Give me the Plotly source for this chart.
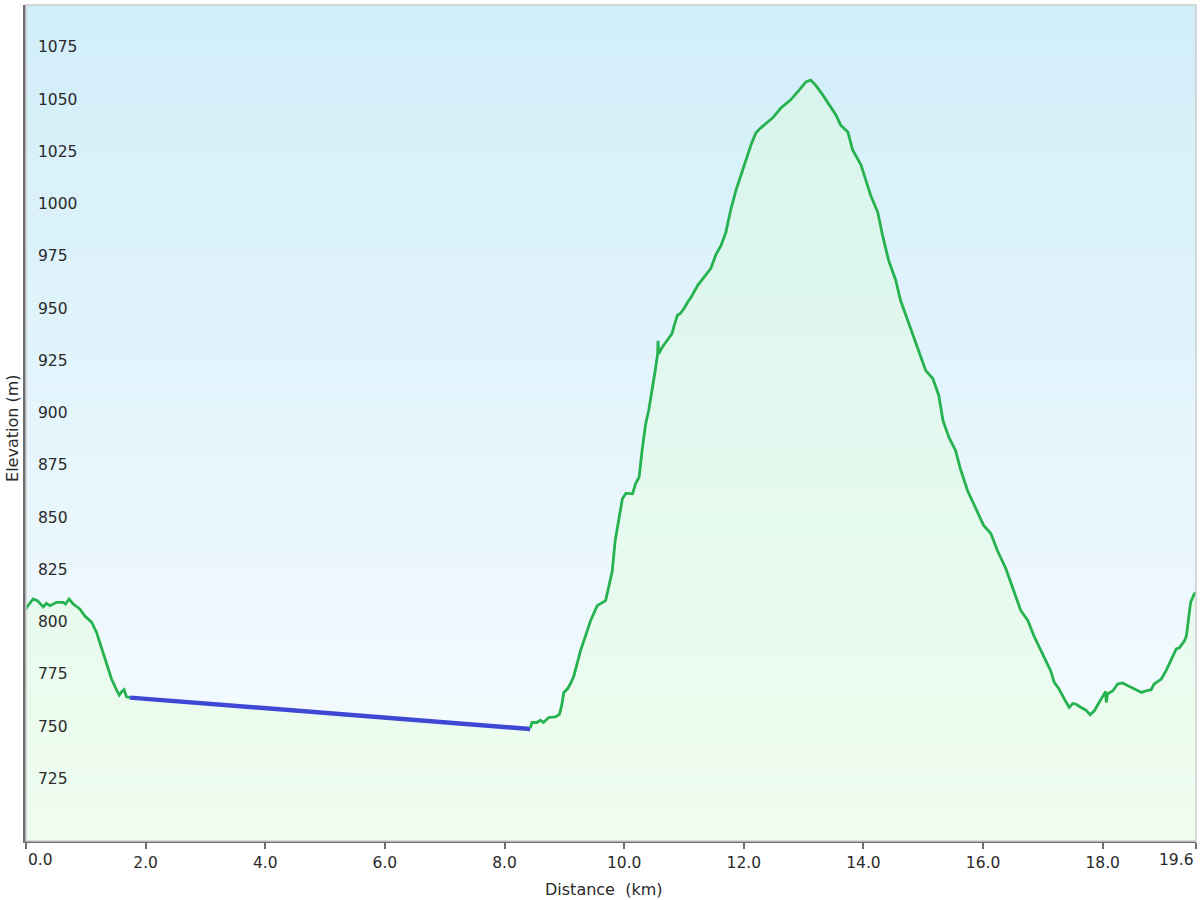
import numpy as np
import plotly.graph_objects as go

# ---- data (distance km, elevation m) ----
seg1_km = [0.0, 0.02, 0.12, 0.19, 0.29, 0.34, 0.40, 0.51, 0.62, 0.66, 0.72, 0.79, 0.90, 0.98,
           1.10, 1.18, 1.26, 1.35, 1.43, 1.52, 1.56, 1.60, 1.64, 1.68, 1.74]
seg1_ele = [811.0, 812.1, 815.8, 815.0, 812.0, 813.7, 812.6, 814.2, 814.2, 813.4, 815.8, 813.4, 811.0, 807.8,
            804.6, 799.8, 792.6, 784.7, 777.5, 771.9, 769.8, 771.4, 772.4, 769.0, 768.6]

gap_km = [1.74, 8.43]
gap_ele = [768.6, 753.6]

seg2_km = [8.43, 8.46, 8.54, 8.60, 8.65, 8.74, 8.85, 8.92, 8.96, 8.99, 9.05, 9.10, 9.16, 9.21, 9.27,
           9.44, 9.55, 9.69, 9.80, 9.85, 9.93, 9.97, 10.03, 10.14, 10.19, 10.25, 10.30, 10.36, 10.41,
           10.47, 10.52, 10.56, 10.565, 10.58, 10.64, 10.72, 10.80, 10.83, 10.89, 10.94, 11.00, 11.08,
           11.11, 11.23, 11.36, 11.45, 11.53, 11.62, 11.70, 11.78, 11.87, 11.95, 12.03, 12.12, 12.20,
           12.28, 12.40, 12.48, 12.62, 12.78, 12.90, 13.04, 13.12, 13.20, 13.32, 13.46, 13.54, 13.62,
           13.74, 13.82, 13.96, 14.04, 14.12, 14.24, 14.32, 14.42, 14.54, 14.62, 14.71, 14.79, 14.92,
           15.04, 15.16, 15.26, 15.33, 15.43, 15.54, 15.62, 15.74, 15.88, 16.01, 16.13, 16.24, 16.38,
           16.50, 16.63, 16.75, 16.85, 16.97, 17.09, 17.13, 17.19, 17.27, 17.36, 17.44, 17.50, 17.55,
           17.64, 17.72, 17.79, 17.86, 17.94, 18.02, 18.05, 18.06, 18.08, 18.17, 18.25, 18.33, 18.42,
           18.53, 18.65, 18.73, 18.81, 18.86, 18.98, 19.06, 19.14, 19.23, 19.28, 19.37, 19.40, 19.43,
           19.47, 19.53, 19.56]
seg2_ele = [754.0, 756.7, 756.7, 757.8, 756.7, 759.1, 759.4, 760.7, 765.5, 771.1, 772.7, 775.1, 779.1, 784.7, 791.0,
            805.5, 812.6, 815.0, 829.0, 843.8, 855.8, 863.7, 866.4, 866.1, 870.9, 874.1, 886.9, 899.7, 906.0,
            915.6, 925.2, 933.2, 939.3, 933.2, 936.4, 939.6, 942.8, 946.0, 951.6, 952.4, 954.8, 958.7,
            959.7, 965.9, 970.7, 974.0, 980.3, 985.0, 991.2, 1001.8, 1011.4, 1018.6, 1025.8, 1033.0, 1038.7,
            1041.1, 1044.0, 1045.9, 1050.7, 1054.5, 1058.4, 1063.2, 1064.1, 1061.7, 1057.0, 1050.7, 1047.4, 1042.5,
            1039.2, 1030.6, 1023.4, 1016.2, 1009.0, 1000.8, 989.8, 977.9, 968.3, 958.7, 951.5, 944.3, 934.7,
            925.2, 921.3, 913.2, 901.2, 893.1, 886.9, 878.2, 867.7, 859.1, 851.0, 847.1, 839.0, 830.4,
            820.8, 810.3, 805.4, 798.2, 791.0, 783.8, 781.5, 775.9, 772.7, 767.9, 763.9, 765.8, 765.5,
            763.9, 762.6, 760.4, 762.3, 766.3, 770.3, 771.6, 766.3, 770.3, 771.9, 775.1, 775.6, 774.3,
            773.0, 771.1, 771.9, 772.4, 775.1, 777.5, 781.5, 786.3, 791.9, 792.4, 795.9, 798.2, 805.4,
            814.2, 818.2, 819.0]

x_tickvals = [0, 2, 4, 6, 8, 10, 12, 14, 16, 18, 19.56]
x_ticktext = ["0.0", "2.0", "4.0", "6.0", "8.0", "10.0", "12.0", "14.0", "16.0", "18.0", "19.6"]
y_tickvals = [725, 750, 775, 800, 825, 850, 875, 900, 925, 950, 975, 1000, 1025, 1050, 1075]

X_MIN, X_MAX = 0.0, 19.56
Y_MIN, Y_MAX = 700, 1100

fig = go.Figure()

# background gradient
bg_y = np.linspace(Y_MIN, Y_MAX, 60)
fig.add_trace(go.Heatmap(
    x=[X_MIN, X_MAX], y=bg_y, z=[[v, v] for v in bg_y],
    colorscale=[[0, "rgb(248,252,255)"], [1, "rgb(209,238,249)"]],
    showscale=False, hoverinfo="skip", zsmooth="best"))

# area fill under the profile
all_km = seg1_km + gap_km[1:-1] + seg2_km
all_ele = seg1_ele + gap_ele[1:-1] + seg2_ele
fig.add_trace(go.Scatter(x=all_km, y=all_ele, mode="lines", line=dict(width=0),
                         fill="tozeroy", fillcolor="rgba(222,255,212,0.34)", hoverinfo="skip"))

green = "rgb(38,178,78)"
fig.add_trace(go.Scatter(x=seg1_km, y=seg1_ele, mode="lines", line=dict(color=green, width=2.8)))
fig.add_trace(go.Scatter(x=gap_km, y=gap_ele, mode="lines", line=dict(color="rgb(62,72,212)", width=4.5)))
fig.add_trace(go.Scatter(x=seg2_km, y=seg2_ele, mode="lines", line=dict(color=green, width=2.8)))

txt_color = "#2a2a2a"
tick_font = dict(family="DejaVu Sans", size=15.5, color=txt_color)

fig.update_layout(
    width=1200, height=900,
    margin=dict(l=26, r=4, t=5, b=59),
    paper_bgcolor="white", plot_bgcolor="white",
    showlegend=False, font=tick_font,
)
inner_text = ["" if i in (0, len(x_ticktext) - 1) else t for i, t in enumerate(x_ticktext)]
fig.update_xaxes(
    range=[X_MIN, X_MAX], tickvals=x_tickvals, ticktext=inner_text,
    showgrid=False, zeroline=False, automargin=False,
    showline=True, linecolor="#6e6e6e", linewidth=2, mirror=False,
    ticks="outside", ticklen=6, tickwidth=2, tickcolor="#6e6e6e",
    ticklabeloverflow="allow",
)
fig.update_yaxes(
    range=[Y_MIN, Y_MAX], tickvals=y_tickvals, automargin=False,
    showgrid=True, gridcolor="rgb(192,200,205)", gridwidth=1.5, zeroline=False,
    showline=True, linecolor="#6e6e6e", linewidth=2.5,
    ticks="", showticklabels=False,
)
# light frame on top and right
fig.add_shape(type="rect", xref="paper", yref="paper", x0=0, y0=0, x1=1, y1=1,
              line=dict(color="rgb(205,205,205)", width=1.5), layer="above")

# y tick labels drawn inside the plot, just above each gridline
for v in y_tickvals:
    fig.add_annotation(text=str(v), xref="paper", yref="y", x=0, y=v, xshift=10, yshift=10,
                       xanchor="left", yanchor="middle", showarrow=False, font=tick_font)

# end labels of the x axis (aligned inward, as in the original)
fig.add_annotation(text=x_ticktext[0], xref="x", yref="paper", x=x_tickvals[0], y=0, yshift=-19,
                   xanchor="left", yanchor="middle", showarrow=False, font=tick_font)
fig.add_annotation(text=x_ticktext[-1], xref="x", yref="paper", x=x_tickvals[-1], y=0, yshift=-19,
                   xanchor="right", yanchor="middle", showarrow=False, font=tick_font)

# axis titles
fig.add_annotation(text="Distance  (km)", xref="paper", yref="paper", x=0.494, y=-0.0586,
                   showarrow=False, font=dict(family="DejaVu Sans", size=16, color=txt_color),
                   xanchor="center", yanchor="middle")
fig.add_annotation(text="Elevation (m)", xref="paper", yref="paper", x=-0.012, y=0.494,
                   showarrow=False, textangle=-90, font=dict(family="DejaVu Sans", size=16, color=txt_color),
                   xanchor="center", yanchor="middle")

fig.write_html("out.html", config={"displayModeBar": False},
               post_script="document.body.style.margin='0px';")
